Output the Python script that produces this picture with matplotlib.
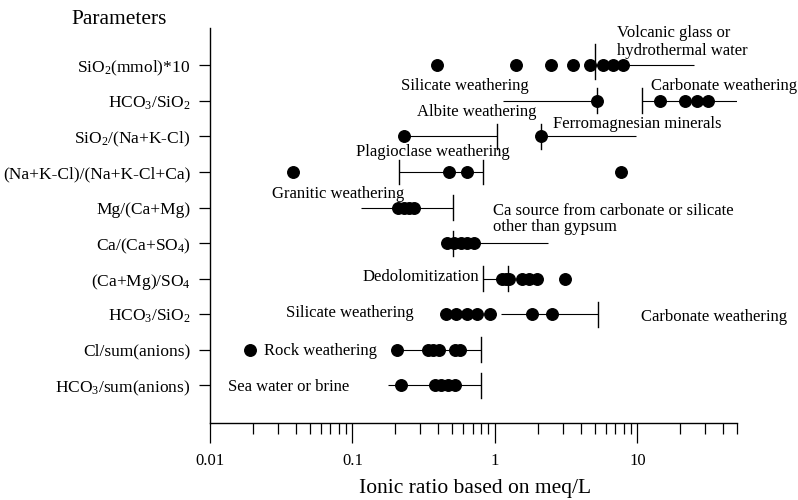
import numpy as np
import matplotlib
matplotlib.use("Agg")
import matplotlib.pyplot as plt
from matplotlib.ticker import LogLocator, NullFormatter

plt.rcParams['font.family'] = ['Liberation Serif', 'DejaVu Serif']
plt.rcParams['mathtext.default'] = 'regular'

# ---------------- data ----------------
parameters = [
    "SiO$_2$(mmol)*10",
    "HCO$_3$/SiO$_2$",
    "SiO$_2$/(Na+K-Cl)",
    "(Na+K-Cl)/(Na+K-Cl+Ca)",
    "Mg/(Ca+Mg)",
    "Ca/(Ca+SO$_4$)",
    "(Ca+Mg)/SO$_4$",
    "HCO$_3$/SiO$_2$",
    "Cl/sum(anions)",
    "HCO$_3$/sum(anions)",
]
row_pos = [10, 9, 8, 7, 6, 5, 4, 3, 2, 1]

# observed ratios (dots) per row, top to bottom
dots_sio2_mmol = [0.39, 1.40, 2.48, 3.52, 4.62, 5.73, 6.74, 7.93]
dots_hco3_sio2_a = [5.2, 14.4, 21.5, 26.0, 31.5]
dots_sio2_nakcl = [0.23, 2.11]
dots_nakcl_ratio = [0.038, 0.476, 0.635, 7.7]
dots_mg_camg = [0.21, 0.23, 0.25, 0.27]
dots_ca_caso4 = [0.463, 0.52, 0.58, 0.64, 0.71]
dots_camg_so4 = [1.12, 1.19, 1.26, 1.54, 1.73, 1.98, 3.08]
dots_hco3_sio2_b = [0.452, 0.535, 0.635, 0.75, 0.93, 1.81, 2.51]
dots_cl_sum = [0.019, 0.204, 0.338, 0.365, 0.403, 0.523, 0.571]
dots_hco3_sum = [0.22, 0.378, 0.42, 0.47, 0.527]

# interpretive ranges (horizontal lines) per row
ranges_sio2_mmol = [(5.0, 25.0)]
ranges_hco3_sio2_a = [(1.13, 5.2), (10.7, 50.0)]
ranges_sio2_nakcl = [(0.23, 1.04), (2.11, 9.7)]
ranges_nakcl_ratio = [(0.212, 0.819)]
ranges_mg_camg = [(0.114, 0.51)]
ranges_ca_caso4 = [(0.463, 2.35)]
ranges_camg_so4 = [(0.82, 1.12)]
ranges_hco3_sio2_b = [(1.1, 5.29)]
ranges_cl_sum = [(0.185, 0.796)]
ranges_hco3_sum = [(0.178, 0.8)]

# threshold marks (vertical bars) per row
limits_sio2_mmol = [5.0]
limits_hco3_sio2_a = [5.2, 10.7]
limits_sio2_nakcl = [1.04, 2.11]
limits_nakcl_ratio = [0.212, 0.819]
limits_mg_camg = [0.51]
limits_ca_caso4 = [0.51]
limits_camg_so4 = [0.82, 1.24]
limits_hco3_sio2_b = [5.29]
limits_cl_sum = [0.796]
limits_hco3_sum = [0.8]

xtick_values = [0.01, 0.1, 1, 10]
xtick_labels = ["0.01", "0.1", "1", "10"]

dots_all = [dots_sio2_mmol, dots_hco3_sio2_a, dots_sio2_nakcl, dots_nakcl_ratio,
            dots_mg_camg, dots_ca_caso4, dots_camg_so4, dots_hco3_sio2_b,
            dots_cl_sum, dots_hco3_sum]
ranges_all = [ranges_sio2_mmol, ranges_hco3_sio2_a, ranges_sio2_nakcl, ranges_nakcl_ratio,
              ranges_mg_camg, ranges_ca_caso4, ranges_camg_so4, ranges_hco3_sio2_b,
              ranges_cl_sum, ranges_hco3_sum]
limits_all = [limits_sio2_mmol, limits_hco3_sio2_a, limits_sio2_nakcl, limits_nakcl_ratio,
              limits_mg_camg, limits_ca_caso4, limits_camg_so4, limits_hco3_sio2_b,
              limits_cl_sum, limits_hco3_sum]

# ---------------- figure ----------------
W, H = 798, 500
fig = plt.figure(figsize=(W / 100, H / 100), dpi=100)
ax_l, ax_r, ax_t, ax_b = 210, 737, 28, 422.7
ax = fig.add_axes([ax_l / W, 1 - ax_b / H, (ax_r - ax_l) / W, (ax_b - ax_t) / H])
ax.set_xscale('log')
ax.set_xlim(0.01, 50)
ax.set_ylim(-0.05, 11.05)

for s in ['top', 'right']:
    ax.spines[s].set_visible(False)
for s in ['left', 'bottom']:
    ax.spines[s].set_linewidth(1.0)

# ranges, limits, dots
for y, rngs, lims, dts in zip(row_pos, ranges_all, limits_all, dots_all):
    for (a, b) in rngs:
        ax.plot([a, b], [y, y], color='black', lw=0.8, zorder=2, solid_capstyle='butt')
    for lim in lims:
        lo, hi = 0.35, 0.35
        if y == 10:
            lo, hi = 0.39, 0.59
        ax.plot([lim, lim], [y - lo, y + hi], color='black', lw=1.0, zorder=2)
    ax.plot(dts, [y] * len(dts), 'o', color='black', ms=8.3, mec='black',
            zorder=3, clip_on=False)

# ticks
ax.set_yticks(row_pos)
ax.set_yticklabels(parameters)
ax.tick_params(axis='y', direction='out', length=8, width=0.9, pad=6, labelsize=12.5)
ax.set_xticks(xtick_values)
ax.set_xticklabels(xtick_labels)
ax.xaxis.set_minor_locator(LogLocator(base=10, subs=np.arange(2, 10), numticks=30))
ax.xaxis.set_minor_formatter(NullFormatter())
ax.tick_params(axis='x', which='major', direction='out', length=14.5, width=0.9,
               pad=7, labelsize=12)
ax.tick_params(axis='x', which='minor', direction='out', length=8, width=0.9)

# annotations (x in data, y in data, baseline)
fs = 12
notes = [
    ("Volcanic glass or", 7.23, 10.783),
    ("hydrothermal water", 7.23, 10.29),
    ("Silicate weathering", 0.218, 9.306),
    ("Carbonate weathering", 12.55, 9.306),
    ("Albite weathering", 0.285, 8.575),
    ("Ferromagnesian minerals", 2.55, 8.238),
    ("Plagioclase weathering", 0.1066, 7.45),
    ("Granitic weathering", 0.0272, 6.283),
    ("Ca source from carbonate or silicate", 0.963, 5.791),
    ("other than gypsum", 0.963, 5.341),
    ("Dedolomitization", 0.117, 3.949),
    ("Silicate weathering", 0.0343, 2.923),
    ("Carbonate weathering", 10.67, 2.81),
    ("Rock weathering", 0.024, 1.854),
    ("Sea water or brine", 0.01345, 0.842),
]
for txt, x, y in notes:
    ax.text(x, y, txt, fontsize=fs, ha='left', va='baseline', zorder=4)

fig.text(71.7 / W, 1 - 24 / H, "Parameters", fontsize=15.4, ha='left', va='baseline')
fig.text(475 / W, 1 - 493 / H, "Ionic ratio based on meq/L", fontsize=15.5,
         ha='center', va='baseline')

fig.savefig("out.png", dpi=100)
